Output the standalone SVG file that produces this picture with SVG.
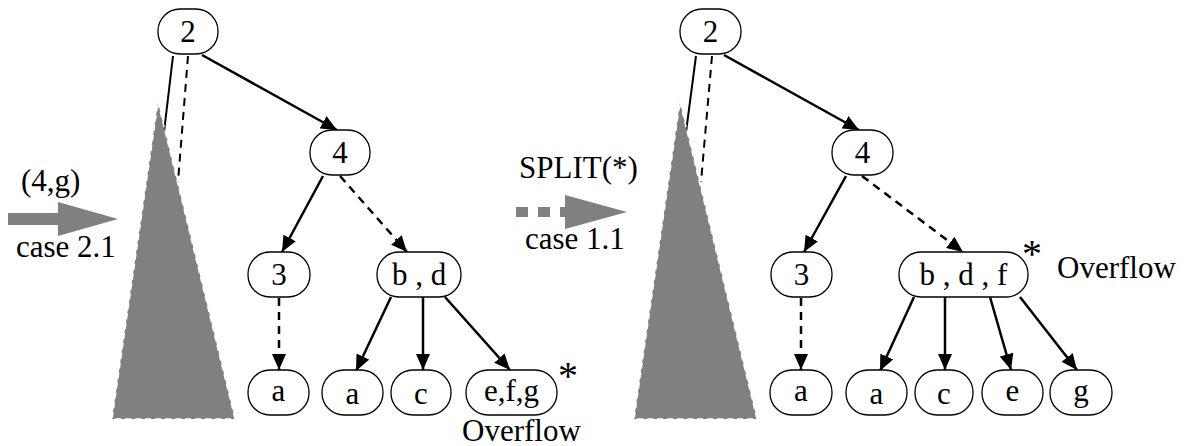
<svg xmlns="http://www.w3.org/2000/svg" width="1187" height="446" viewBox="0 0 1187 446">
<defs>
<marker id="ah" viewBox="0 0 16 14" refX="16" refY="7" markerWidth="16" markerHeight="14" markerUnits="userSpaceOnUse" orient="auto">
<path d="M0,0 L16,7 L0,14 Z" fill="#000"/>
</marker>
</defs>
<style>
.n rect{fill:#fff;stroke:#000;stroke-width:1.3}
.e{stroke:#000;stroke-width:2.5;fill:none;marker-end:url(#ah)}
.d{stroke-dasharray:8 6}
.ln{stroke:#000;stroke-width:2;fill:none}
.tri{fill:#808080;stroke:#fff;stroke-width:1.5;stroke-dasharray:6 4}
.g{fill:#808080}
</style>

<g id="connectors">
<line class="ln" x1="173" y1="56" x2="164" y2="132"/>
<line class="ln d" x1="188" y1="56" x2="178" y2="182"/>
<line class="e" x1="202" y1="55" x2="337" y2="130"/>
<line class="e" x1="323" y1="176" x2="282" y2="252"/>
<line class="e d" x1="340" y1="176" x2="407" y2="252"/>
<line class="e d" x1="279" y1="298" x2="279" y2="370"/>
<line class="e" x1="391" y1="297" x2="356" y2="371"/>
<line class="e" x1="423" y1="297" x2="423" y2="370"/>
<line class="e" x1="445" y1="297" x2="510" y2="370"/>
<line class="ln" x1="696" y1="56" x2="686" y2="132"/>
<line class="ln d" x1="712" y1="56" x2="701" y2="182"/>
<line class="e" x1="724" y1="55" x2="859" y2="130"/>
<line class="e" x1="846" y1="176" x2="804" y2="252"/>
<line class="e d" x1="862" y1="176" x2="963" y2="252"/>
<line class="e d" x1="801" y1="298" x2="801" y2="370"/>
<line class="e" x1="914" y1="297" x2="880" y2="371"/>
<line class="e" x1="945" y1="297" x2="945" y2="370"/>
<line class="e" x1="990" y1="297" x2="1011" y2="370"/>
<line class="e" x1="1020" y1="297" x2="1077" y2="370"/>
</g>

<polygon id="subtree-left" class="tri" points="158,102 235,419 112,419"/>
<polygon id="subtree-right" class="tri" points="680,102 757,419 634,419"/>

<g id="arrow-insert">
<rect class="g" x="8" y="213" width="50" height="12"/>
<polygon class="g" points="58,202 118,219 58,236"/>
<text x="21" y="191" font-family="Liberation Serif" font-size="31">(4,g)</text>
<text x="16" y="257" font-family="Liberation Serif" font-size="31">case 2.1</text>
</g>
<g id="arrow-split">
<rect class="g" x="516" y="207" width="12" height="10"/>
<rect class="g" x="538" y="207" width="12" height="10"/>
<rect class="g" x="560" y="207" width="8" height="10"/>
<polygon class="g" points="565,195 627,212 565,229"/>
<text x="519" y="178" font-family="Liberation Serif" font-size="31">SPLIT(*)</text>
<text x="525" y="249" font-family="Liberation Serif" font-size="31">case 1.1</text>
</g>

<g id="L2" class="n"><rect x="158" y="9" width="60" height="45" rx="22"/><text x="188" y="42" font-family="Liberation Serif" font-size="31" text-anchor="middle">2</text></g>
<g id="L4" class="n"><rect x="310" y="130" width="60" height="45" rx="22"/><text x="340" y="163" font-family="Liberation Serif" font-size="31" text-anchor="middle">4</text></g>
<g id="L3" class="n"><rect x="248" y="252" width="62" height="45" rx="22"/><text x="279" y="285" font-family="Liberation Serif" font-size="31" text-anchor="middle">3</text></g>
<g id="Lbd" class="n"><rect x="377" y="252" width="84" height="45" rx="22"/><text x="419" y="285" font-family="Liberation Serif" font-size="31" text-anchor="middle">b , d</text></g>
<g id="La1" class="n"><rect x="248" y="370" width="61" height="45" rx="22"/><text x="278.5" y="401" font-family="Liberation Serif" font-size="31" text-anchor="middle">a</text></g>
<g id="La2" class="n"><rect x="322" y="370" width="61" height="45" rx="22"/><text x="352.5" y="404" font-family="Liberation Serif" font-size="31" text-anchor="middle">a</text></g>
<g id="Lc" class="n"><rect x="391" y="370" width="60" height="45" rx="22"/><text x="421" y="404" font-family="Liberation Serif" font-size="31" text-anchor="middle">c</text></g>
<g id="Lefg" class="n"><rect x="466" y="370" width="91" height="45" rx="22"/><text x="511.5" y="401" font-family="Liberation Serif" font-size="31" text-anchor="middle">e,f,g</text></g>
<text x="558" y="389" font-family="Liberation Serif" font-size="40">*</text>
<text x="462" y="441" font-family="Liberation Serif" font-size="31">Overflow</text>

<g id="R2" class="n"><rect x="680" y="9" width="61" height="45" rx="22"/><text x="710.5" y="42" font-family="Liberation Serif" font-size="31" text-anchor="middle">2</text></g>
<g id="R4" class="n"><rect x="832" y="130" width="61" height="45" rx="22"/><text x="862.5" y="163" font-family="Liberation Serif" font-size="31" text-anchor="middle">4</text></g>
<g id="R3" class="n"><rect x="771" y="252" width="61" height="45" rx="22"/><text x="801.5" y="285" font-family="Liberation Serif" font-size="31" text-anchor="middle">3</text></g>
<g id="Rbdf" class="n"><rect x="899" y="252" width="129" height="45" rx="22"/><text x="963.5" y="285" font-family="Liberation Serif" font-size="31" text-anchor="middle">b , d , f</text></g>
<g id="Ra1" class="n"><rect x="770" y="370" width="62" height="45" rx="22"/><text x="801" y="401" font-family="Liberation Serif" font-size="31" text-anchor="middle">a</text></g>
<g id="Ra2" class="n"><rect x="846" y="370" width="61" height="45" rx="22"/><text x="876.5" y="404" font-family="Liberation Serif" font-size="31" text-anchor="middle">a</text></g>
<g id="Rc" class="n"><rect x="915" y="370" width="58" height="45" rx="22"/><text x="944" y="404" font-family="Liberation Serif" font-size="31" text-anchor="middle">c</text></g>
<g id="Re" class="n"><rect x="982" y="370" width="61" height="45" rx="22"/><text x="1012.5" y="401" font-family="Liberation Serif" font-size="31" text-anchor="middle">e</text></g>
<g id="Rg" class="n"><rect x="1050" y="370" width="62" height="45" rx="22"/><text x="1081" y="401" font-family="Liberation Serif" font-size="31" text-anchor="middle">g</text></g>
<text x="1022" y="267" font-family="Liberation Serif" font-size="40">*</text>
<text x="1057" y="278" font-family="Liberation Serif" font-size="31">Overflow</text>
</svg>
